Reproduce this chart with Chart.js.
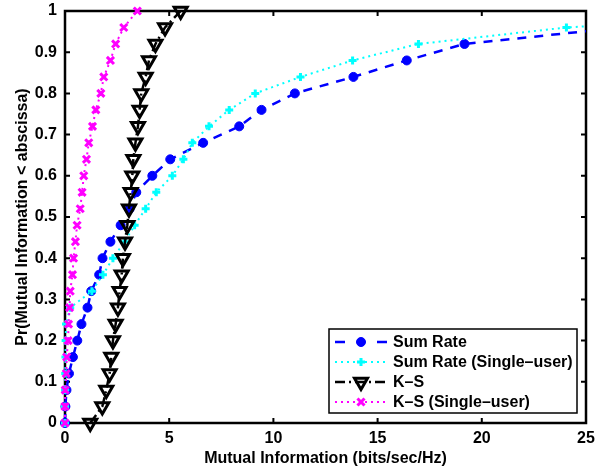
<!DOCTYPE html>
<html>
<head>
<meta charset="utf-8">
<script src="https://cdn.jsdelivr.net/npm/chart.js@4.4.1/dist/chart.umd.min.js"></script>
<style>
  html, body { margin: 0; padding: 0; background: #fff; }
  #wrap { width: 602px; height: 468px; }
</style>
</head>
<body>
<div id="wrap"><canvas id="cdfChart" width="602" height="468"></canvas></div>
<script>
// Ordinate of every marker (empirical CDF levels)
const cdfLevels = [0, 0.04, 0.08, 0.12, 0.16, 0.20, 0.24, 0.28, 0.32, 0.36, 0.40, 0.44, 0.48,
                   0.52, 0.56, 0.60, 0.64, 0.68, 0.72, 0.76, 0.80, 0.84, 0.88, 0.92, 0.96, 1.00];

// Abscissa (bits/sec/Hz) of each series, one value per CDF level
const sumRateX       = [0, 0.02, 0.07, 0.19, 0.38, 0.59, 0.79, 1.08, 1.26, 1.64, 1.80, 2.18, 2.67,
                        3.10, 3.42, 4.19, 5.05, 6.63, 8.36, 9.43, 11.03, 13.84, 16.40, 19.17, 26.7];
const sumRateSingleX = [0, 0, 0.01, 0.01, 0.02, 0.03, 0.05, 0.25, 1.29, 1.82, 2.30, 2.86, 3.34,
                        3.87, 4.38, 5.15, 5.68, 6.11, 6.91, 7.88, 9.13, 11.30, 13.80, 16.96, 24.06, 36.6];
const ksX            = [1.21, 1.79, 1.98, 2.14, 2.22, 2.30, 2.43, 2.54, 2.62, 2.72, 2.78, 2.88, 2.99,
                        3.07, 3.15, 3.23, 3.28, 3.38, 3.50, 3.58, 3.66, 3.87, 4.03, 4.34, 4.80, 5.55];
const ksSingleX      = [0, 0, 0.01, 0.06, 0.08, 0.15, 0.17, 0.22, 0.25, 0.36, 0.41, 0.50, 0.58,
                        0.73, 0.82, 0.90, 1.03, 1.14, 1.32, 1.48, 1.72, 1.86, 2.18, 2.43, 2.82, 3.47];

const seriesLabels = ['Sum Rate', 'Sum Rate (Single\u2013user)', 'K\u2013S', 'K\u2013S (Single\u2013user)'];
const xTicks = [0, 5, 10, 15, 20, 25];

const FONT = '"Liberation Sans", Helvetica, Arial, sans-serif';

function toPoints(xs) {
    return xs.map((x, i) => ({ x: x, y: cdfLevels[i] }));
}

// Only the right side is clipped (curves leave the box at x = 25)
const clipRight = { left: false, top: false, right: 0, bottom: false };

// Keep the plot box exactly where layout.padding puts it
function noLabelPadding(s) {
    s.paddingTop = 0; s.paddingBottom = 0;
    s.paddingLeft = 0; s.paddingRight = 0;
}

// ---- Boîte MATLAB + graduations intérieures ----
const frameBox = {
    id: 'frameBox',
    beforeDatasetsDraw(chart) {
        const { ctx, chartArea: a, scales } = chart;
        ctx.save();
        ctx.strokeStyle = '#000';
        ctx.lineWidth = 2;
        const tl = 5;
        scales.x.ticks.forEach(t => {
            const px = scales.x.getPixelForValue(t.value);
            ctx.beginPath();
            ctx.moveTo(px, a.bottom); ctx.lineTo(px, a.bottom - tl);
            ctx.moveTo(px, a.top);    ctx.lineTo(px, a.top + tl);
            ctx.stroke();
        });
        scales.y.ticks.forEach(t => {
            const py = scales.y.getPixelForValue(t.value);
            ctx.beginPath();
            ctx.moveTo(a.left, py);  ctx.lineTo(a.left + tl, py);
            ctx.moveTo(a.right, py); ctx.lineTo(a.right - tl, py);
            ctx.stroke();
        });
        ctx.lineWidth = 2.5;
        ctx.strokeRect(a.left, a.top, a.right - a.left, a.bottom - a.top);
        ctx.restore();
    }
};

// ---- Légende dans le coin bas-droit ----
const legendDashes = [[10, 32], [2, 4], [10, 4, 2, 4], [2, 4]];

const boxLegend = {
    id: 'boxLegend',
    afterDraw(chart) {
        const { ctx, chartArea: a } = chart;
        const w = 248, h = 84;
        const x0 = a.right - 9 - w, y0 = a.bottom - 10 - h;
        ctx.save();
        ctx.fillStyle = '#fff';
        ctx.fillRect(x0, y0, w, h);
        ctx.strokeStyle = '#000';
        ctx.lineWidth = 1.5;
        ctx.setLineDash([]);
        ctx.strokeRect(x0, y0, w, h);

        chart.data.datasets.forEach((ds, i) => {
            const cy = y0 + 13 + i * 20;
            const lx0 = x0 + 6, lx1 = x0 + 58, mx = (lx0 + lx1) / 2;
            ctx.strokeStyle = ds.borderColor;
            ctx.lineWidth = ds.borderWidth;
            ctx.setLineDash(legendDashes[i]);
            ctx.beginPath();
            ctx.moveTo(lx0, cy); ctx.lineTo(lx1, cy);
            ctx.stroke();
            ctx.setLineDash([]);
            ctx.lineWidth = ds.pointBorderWidth;
            ctx.strokeStyle = ds.pointBorderColor;
            ctx.fillStyle = ds.pointBackgroundColor;
            Chart.helpers.drawPoint(ctx, {
                pointStyle: ds.pointStyle,
                rotation: ds.pointRotation || 0,
                radius: ds.pointRadius,
                borderWidth: ds.pointBorderWidth
            }, mx, cy);

            ctx.fillStyle = '#000';
            ctx.font = 'bold 16px ' + FONT;
            ctx.textBaseline = 'middle';
            ctx.textAlign = 'left';
            ctx.fillText(ds.label, x0 + 64, cy + 1);
        });
        ctx.restore();
    }
};

Chart.defaults.font.family = FONT;
Chart.defaults.color = '#000';

new Chart(document.getElementById('cdfChart'), {
    type: 'scatter',
    data: {
        datasets: [
            {
                label: seriesLabels[0],
                data: toPoints(sumRateX),
                showLine: true,
                borderColor: '#0000ff',
                borderWidth: 2.5,
                borderDash: [9, 8],
                pointStyle: 'circle',
                pointRadius: 4.5,
                pointBackgroundColor: '#0000ff',
                pointBorderColor: '#0000ff',
                pointBorderWidth: 1,
                clip: clipRight,
                order: 4
            },
            {
                label: seriesLabels[1],
                data: toPoints(sumRateSingleX),
                showLine: true,
                borderColor: '#00ffff',
                borderWidth: 2,
                borderDash: [2, 4],
                pointStyle: 'cross',
                pointRadius: 4,
                pointBackgroundColor: '#00ffff',
                pointBorderColor: '#00ffff',
                pointBorderWidth: 3,
                clip: clipRight,
                order: 3
            },
            {
                label: seriesLabels[2],
                data: toPoints(ksX),
                showLine: true,
                borderColor: '#000000',
                borderWidth: 2.5,
                borderDash: [10, 4, 2, 4],
                pointStyle: 'triangle',
                pointRotation: 180,
                pointRadius: 7.5,
                pointBackgroundColor: 'rgba(0,0,0,0)',
                pointBorderColor: '#000000',
                pointBorderWidth: 3,
                clip: false,
                order: 2
            },
            {
                label: seriesLabels[3],
                data: toPoints(ksSingleX),
                showLine: true,
                borderColor: '#ff00ff',
                borderWidth: 2,
                borderDash: [2, 4],
                pointStyle: 'crossRot',
                pointRadius: 5,
                pointBackgroundColor: '#ff00ff',
                pointBorderColor: '#ff00ff',
                pointBorderWidth: 3,
                clip: false,
                order: 1
            }
        ]
    },
    options: {
        responsive: false,
        animation: false,
        devicePixelRatio: 1,
        events: [],
        layout: { padding: { top: 11, right: 16, bottom: 0, left: 0 } },
        plugins: {
            legend: { display: false },
            tooltip: { enabled: false }
        },
        scales: {
            x: {
                type: 'linear',
                min: 0,
                max: 25,
                afterFit: (s) => { s.height = 45; noLabelPadding(s); },
                afterBuildTicks: (s) => { s.ticks = xTicks.map(v => ({ value: v })); },
                grid: { display: false, drawTicks: false },
                border: { display: false },
                ticks: { padding: 6, font: { size: 16, weight: 'bold' } },
                title: {
                    display: true,
                    text: 'Mutual Information (bits/sec/Hz)',
                    font: { size: 16, weight: 'bold' },
                    padding: { top: 5, bottom: 0 }
                }
            },
            y: {
                min: 0,
                max: 1,
                afterFit: (s) => { s.width = 65; noLabelPadding(s); },
                grid: { display: false, drawTicks: false },
                border: { display: false },
                ticks: {
                    stepSize: 0.1,
                    padding: 8,
                    font: { size: 16, weight: 'bold' },
                    callback: (v) => String(Math.round(v * 10) / 10)
                },
                title: {
                    display: true,
                    text: 'Pr(Mutual Information < abscissa)',
                    font: { size: 16, weight: 'bold' },
                    padding: { top: 13, bottom: 0 }
                }
            }
        }
    },
    plugins: [frameBox, boxLegend]
});
</script>
</body>
</html>
